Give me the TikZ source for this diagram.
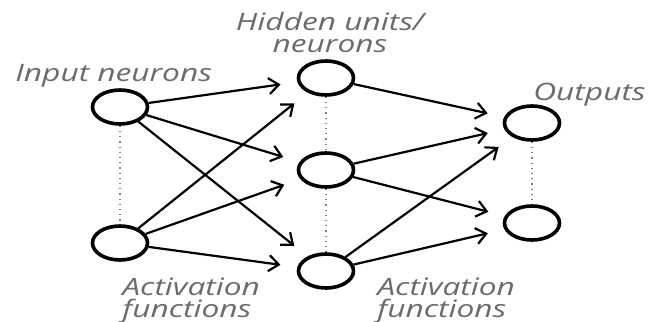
\documentclass[tikz,border=0pt]{standalone}
\usepackage{fontspec}
\setmainfont{Open Sans}
\newfontfamily\labelfont[FakeStretch=1.32]{Open Sans Italic}
\usepackage{tikz}
\usetikzlibrary{shapes.geometric, arrows.meta}
\definecolor{labelgray}{HTML}{6B6B6B}
\tikzstyle{neuron} = [ellipse, draw=black, line width=1.8pt, minimum width=27.5pt, minimum height=17pt, inner sep=0pt]
\tikzstyle{arrow} = [line width=1.1pt, -{Straight Barb[length=5pt,width=8pt]}, shorten >=8.5pt]
\tikzstyle{dotline} = [gray, dotted, line width=0.6pt]
\tikzstyle{caption} = [text=labelgray, inner sep=0pt, font=\labelfont\fontsize{12pt}{11pt}\selectfont]

\begin{document}
\begin{tikzpicture}[x=0.5pt, y=-0.5pt]

		\useasboundingbox (0,0) rectangle (650,322);

		\node (in1) [neuron] at (120,107) {};
		\node (in2) [neuron] at (120,243) {};
		\node (hid1) [neuron] at (326,78) {};
		\node (hid2) [neuron] at (326,170) {};
		\node (hid3) [neuron] at (326,271) {};
		\node (out1) [neuron] at (532,123) {};
		\node (out2) [neuron] at (532,223) {};

		% multi-line captions sit on the baseline of their last line
		\node (inlabel) [caption, anchor=base west] at (15,81) {Input neurons};
		\node (hidlabel) [caption, anchor=base, align=center] at (330,52) {Hidden units/\\neurons};
		\node (outlabel) [caption, anchor=base west] at (533,100) {Outputs};
		\node (actleft) [caption, anchor=base west, align=left] at (122,317) {Activation\\functions};
		\node (actright) [caption, anchor=base west, align=left] at (377,317) {Activation\\functions};

		\draw [dotline] (in1) -- (in2);
		\draw [dotline] (hid1) -- (hid2);
		\draw [dotline] (hid2) -- (hid3);
		\draw [dotline] (out1) -- (out2);

		\draw [arrow] (in1) -- (hid1);
		\draw [arrow] (in1) -- (hid2);
		\draw [arrow] (in1) -- (hid3);
		\draw [arrow] (in2) -- (hid1);
		\draw [arrow] (in2) -- (hid2);
		\draw [arrow] (in2) -- (hid3);
		\draw [arrow] (hid1) -- (out1);
		\draw [arrow] (hid2) -- (out1);
		\draw [arrow] (hid2) -- (out2);
		\draw [arrow] (hid3) -- (out1);
		\draw [arrow] (hid3) -- (out2);

		\end{tikzpicture}
\end{document}
